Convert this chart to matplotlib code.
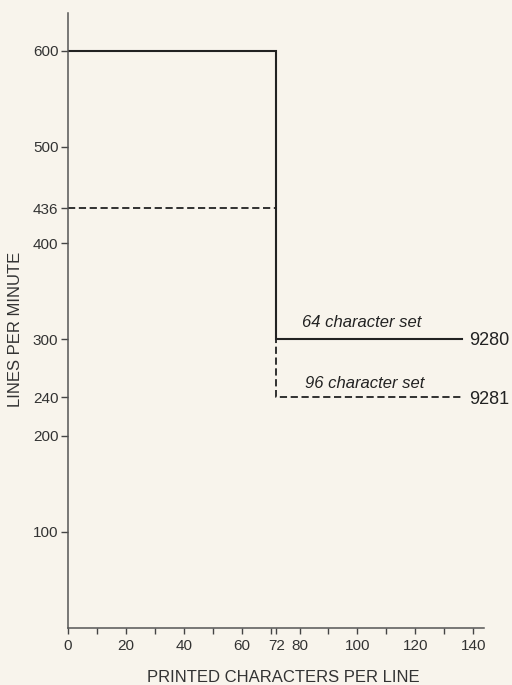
import matplotlib.pyplot as plt
from matplotlib import rcParams

rcParams['font.family'] = ['Liberation Sans', 'DejaVu Sans']

# step curves: chars per line -> lines per minute
chars = [0, 72, 72, 136]
lpm_64 = [600, 600, 300, 300]
lpm_96 = [436, 436, 240, 240]

x_ticks = [0, 20, 40, 60, 72, 80, 100, 120, 140]
x_minor = [10, 30, 50, 70, 90, 110, 130]
y_ticks = [100, 200, 240, 300, 400, 436, 500, 600]

paper = '#f8f4ec'
ink = '#222222'

fig = plt.figure(figsize=(5.12, 6.85), dpi=100, facecolor=paper)
ax = fig.add_axes([0.133, 0.083, 0.812, 0.898], facecolor=paper)

ax.plot(chars, lpm_64, color=ink, lw=1.5, solid_joinstyle='miter')
ax.plot(chars, lpm_96, color=ink, lw=1.3, ls=(0, (4, 2)))

ax.text(81, 317, '64 character set', style='italic', fontsize=12, color=ink, va='center')
ax.text(82, 254, '96 character set', style='italic', fontsize=12, color=ink, va='center')
ax.text(138.5, 299, '9280', fontsize=13, color=ink, va='center')
ax.text(138.5, 237, '9281', fontsize=13, color=ink, va='center')

ax.set_xlim(0, 143.7)
ax.set_ylim(0, 639)
ax.set_xticks(x_ticks)
ax.set_xticks(x_minor, minor=True)
ax.set_yticks(y_ticks)
ax.tick_params(axis='both', which='both', direction='out', color='#444444',
               labelcolor='#333333', labelsize=11, width=1)
ax.tick_params(axis='x', which='major', length=4, pad=4)
ax.tick_params(axis='x', which='minor', length=4)
ax.tick_params(axis='y', length=5, pad=2)

for side in ['top', 'right']:
    ax.spines[side].set_visible(False)
for side in ['left', 'bottom']:
    ax.spines[side].set_color('#555555')
    ax.spines[side].set_linewidth(1.1)

ax.set_xlabel('PRINTED CHARACTERS PER LINE', fontsize=12, color='#333333')
ax.set_ylabel('LINES PER MINUTE', fontsize=12, color='#333333')
ax.xaxis.set_label_coords(0.517, -0.068)
ax.yaxis.set_label_coords(-0.108, 0.485)

fig.savefig('out.png', dpi=100, facecolor=paper)
